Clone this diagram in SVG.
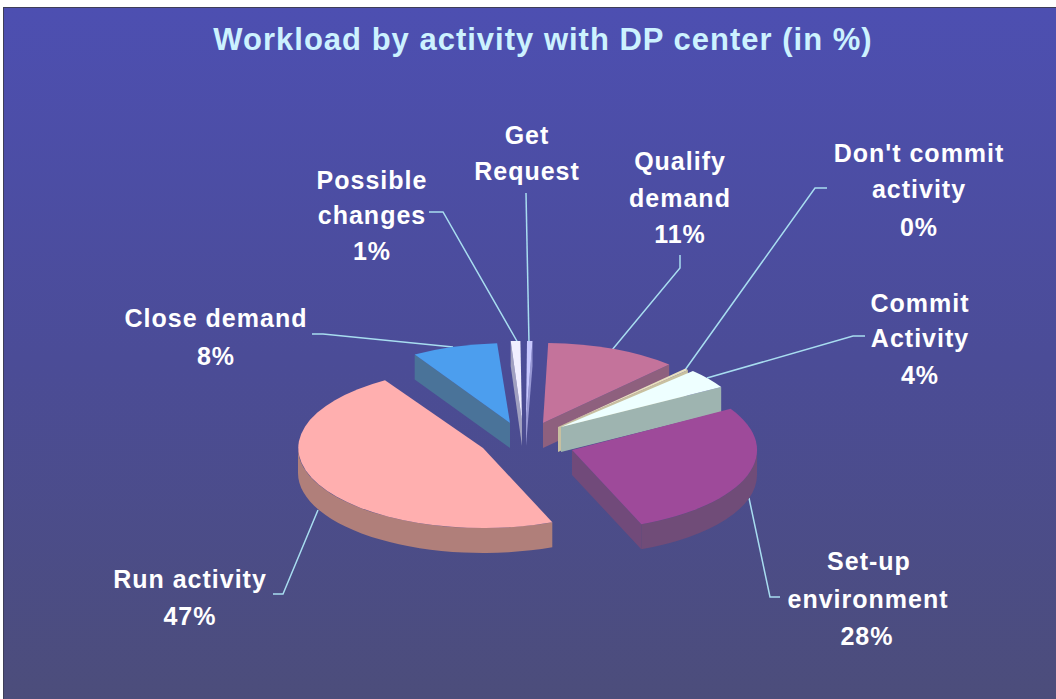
<svg xmlns="http://www.w3.org/2000/svg" width="1056" height="699" viewBox="0 0 1056 699">
<defs>
<linearGradient id="bg" x1="0" y1="0" x2="0" y2="1">
<stop offset="0" stop-color="#4D4FB1"/>
<stop offset="0.5" stop-color="#4B4C97"/>
<stop offset="1" stop-color="#4C4D7A"/>
</linearGradient>
</defs>
<style>
.t{font-family:"Liberation Sans",Arial,sans-serif;font-weight:bold;}
.title{font-size:31px;fill:#CCF2FF;letter-spacing:1px;}
.lbl{font-size:25px;fill:#FFFFFF;letter-spacing:1px;text-anchor:middle;}
.lead{fill:none;stroke:#A8DDF0;stroke-width:1.5;}
</style>
<rect x="3.5" y="7.5" width="1060" height="700" fill="url(#bg)" stroke="#3E3E58" stroke-width="1"/>
<text class="t title" x="543" y="50" text-anchor="middle">Workload by activity with DP center (in %)</text>

<g id="connectors">
<polyline class="lead" points="526,193 529,343"/>
<polyline class="lead" points="429,212 443,212 518,343"/>
<polyline class="lead" points="680,255 680,268 612,350"/>
<polyline class="lead" points="827,188 815,188 685,370"/>
<polyline class="lead" points="865,336 853,336 707,378"/>
<polyline class="lead" points="312,334 323,334 453,347"/>
<polyline class="lead" points="273,594 283,594 318,510"/>
<polyline class="lead" points="749,498 770,597 780,597"/>
</g>

<g id="get-request">
<path d="M526,421 L532.5,341 L532.5,366 L526,446 Z" fill="#9898D4"/>
<path d="M526,421 L527,341 A185 80 0 0 1 532.5,341 Z" fill="#C8C8FF"/>
<text class="t lbl"><tspan x="527" y="144">Get</tspan><tspan x="527" y="180">Request</tspan></text>
</g>

<g id="possible-changes">
<path d="M522,421 L510.7,341.1 L510.7,366.1 L522,446 Z" fill="#A0A0C0"/>
<path d="M522,421 L510.7,341.1 A185 80 0 0 1 520.4,341 Z" fill="#F0EEFF"/>
<text class="t lbl"><tspan x="372" y="189">Possible</tspan><tspan x="372" y="224">changes</tspan><tspan x="372" y="260">1%</tspan></text>
</g>

<g id="close-demand">
<path d="M510,423 L414.7,354.4 L414.7,379.4 L510,448 Z" fill="#4A7399"/>
<path d="M510,423 L414.7,354.4 A185 80 0 0 1 497.1,343.2 Z" fill="#4C9EEE"/>
<text class="t lbl"><tspan x="216" y="327">Close demand</tspan><tspan x="216" y="365">8%</tspan></text>
</g>

<g id="qualify-demand">
<path d="M543,423 L669.2,364.5 L669.2,389.5 L543,448 Z" fill="#8E607E"/>
<path d="M543,423 L548.2,343 A185 80 0 0 1 669.2,364.5 Z" fill="#C4739B"/>
<text class="t lbl"><tspan x="680" y="170">Qualify</tspan><tspan x="680" y="207">demand</tspan><tspan x="680" y="243">11%</tspan></text>
</g>

<g id="dont-commit">
<path d="M558,427 L687.9,370 L687.9,395 L558,452 Z" fill="#C8C0A0"/>
<path d="M558,427 L684.9,368.8 A185 80 0 0 1 687.9,370 Z" fill="#E8E0C0"/>
<text class="t lbl"><tspan x="919" y="162">Don't commit</tspan><tspan x="919" y="198">activity</tspan><tspan x="919" y="236">0%</tspan></text>
</g>

<g id="commit-activity">
<path d="M561,427 L721.2,387 L721.2,412 L561,452 Z" fill="#9EB4B0"/>
<path d="M561,427 L692.9,370.9 A185 80 0 0 1 721.2,387 Z" fill="#EEFFFF"/>
<text class="t lbl"><tspan x="920" y="312">Commit</tspan><tspan x="920" y="347">Activity</tspan><tspan x="920" y="384">4%</tspan></text>
</g>

<g id="run-activity">
<path d="M552.3,522.2 A185 80 0 0 1 298,448 L298,473 A185 80 0 0 0 552.3,547.2 Z" fill="#B07F7A"/>
<path d="M483,448 L552.3,522.2 A185 80 0 0 1 385,380.2 Z" fill="#FFAFAF"/>
<text class="t lbl"><tspan x="190" y="588">Run activity</tspan><tspan x="190" y="625">47%</tspan></text>
</g>

<g id="set-up-environment">
<path d="M572,450 L641.3,524.2 L641.3,549.2 L572,475 Z" fill="#714A7A"/>
<path d="M757,450 A185 80 0 0 1 641.3,524.2 L641.3,549.2 A185 80 0 0 0 757,475 Z" fill="#704C78"/>
<path d="M572,450 L730.6,408.8 A185 80 0 0 1 641.3,524.2 Z" fill="#9E4A9A"/>
<text class="t lbl"><tspan x="869" y="570">Set-up</tspan><tspan x="868" y="608">environment</tspan><tspan x="867" y="645">28%</tspan></text>
</g>
</svg>
